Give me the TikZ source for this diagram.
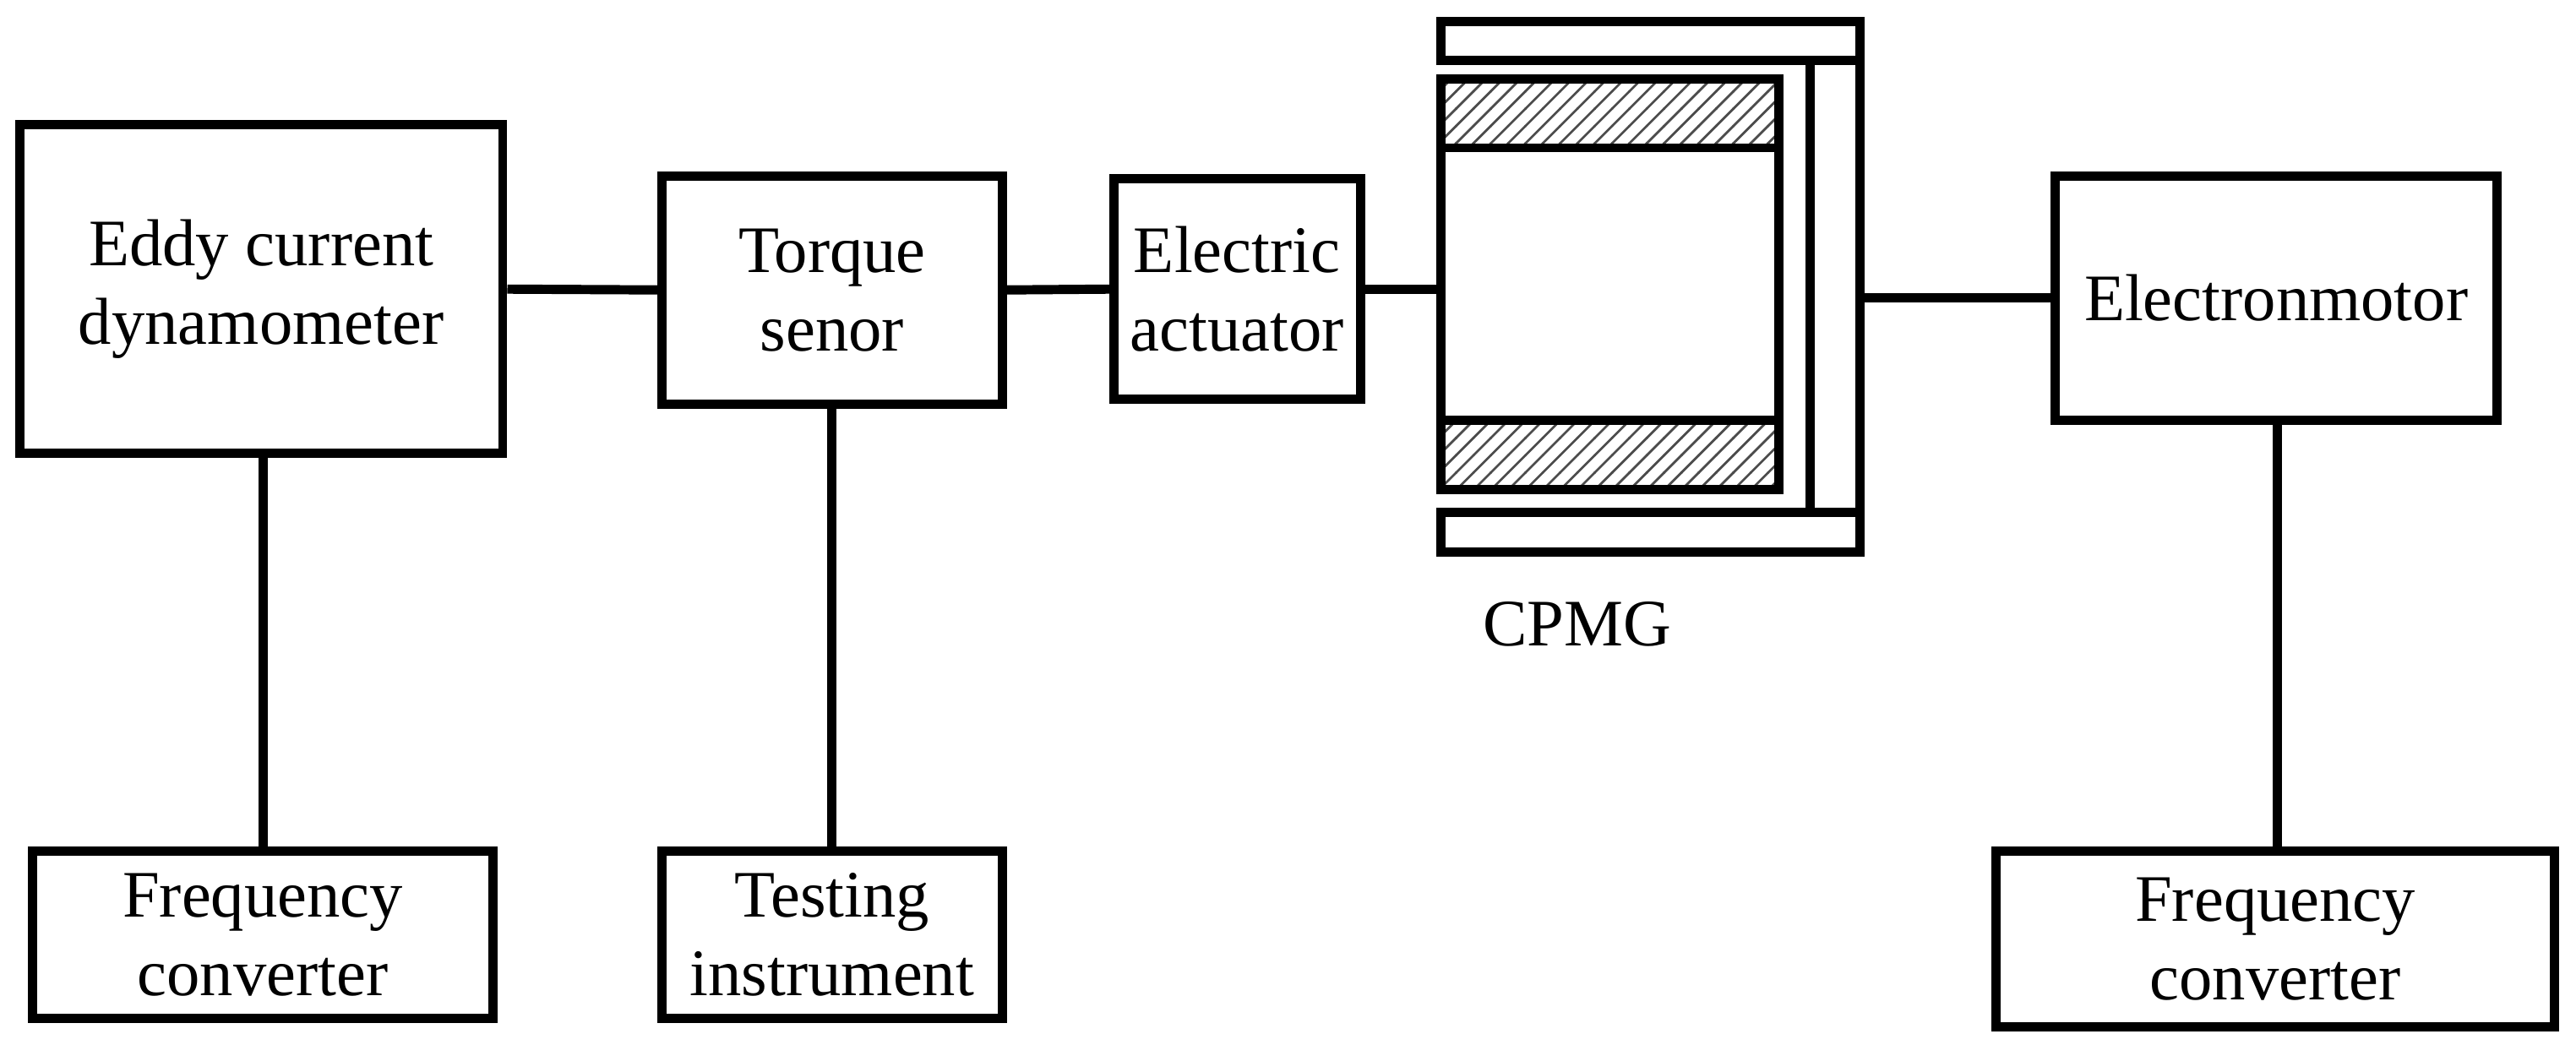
\documentclass[tikz,border=0pt]{standalone}
\usepackage{fontspec}
\setmainfont{Liberation Serif}
\usetikzlibrary{patterns}
\tikzset{
  blk/.style={draw, line width=1.6pt, align=center, inner sep=0pt,
              font=\fontsize{11.5}{13.6}\selectfont},
  wire/.style={line width=1.6pt},
}
\newcommand{\blkat}[6]{% name, x1, y1, x2, y2, text
  \node[blk, minimum width={(#4-#2)*0.01cm}, minimum height={(#5-#3)*0.01cm}]
    (#1) at ({(#2+#4)/2},{(#3+#5)/2}) {#6};}

\begin{document}
\begin{tikzpicture}[x=0.01cm, y=-0.01cm]
    \useasboundingbox (0,0) rectangle (1568,636);
    % main chain
    \blkat{eddy}{12}{76}{306}{276}{Eddy current\\dynamometer}
    \blkat{torque}{403}{107}{610}{246}{Torque\\senor}
    \blkat{act}{678}{109}{828}{243}{Electric\\actuator}
    \blkat{motor}{1251}{107}{1520}{256}{Electronmotor}
    % lower row
    \blkat{freqL}{20}{518}{300}{620}{Frequency\\converter}
    \blkat{test}{403}{518}{610}{620}{Testing\\instrument}
    \blkat{freqR}{1215}{518}{1555}{625}{Frequency\\converter}

    % CPMG
    \draw[wire] (877,13) rectangle (1132,37);
    \draw[wire] (877,312) rectangle (1132,336);
    \blkat{bar}{1102}{37}{1132}{312}{}
    \blkat{cpmg}{877}{48}{1083}{298}{}
    \draw[wire, pattern=north east lines, pattern color=black!70] (877,48) rectangle (1083,90);
    \draw[wire, pattern=north east lines, pattern color=black!70] (877,256) rectangle (1083,298);
    \node[font=\fontsize{11.5}{13.6}\selectfont] (cpmglbl) at (960,380) {CPMG};

    % connectors
    \draw[wire] (eddy.east) -- (torque.west);
    \draw[wire] (torque.east) -- (act.west);
    \draw[wire] (act.east) -- (act.east -| cpmg.west);
    \draw[wire] (motor.west -| bar.east) -- (motor.west);
    \draw[wire] (eddy.south -| 160,0) -- (freqL.north -| 160,0);
    \draw[wire] (torque.south) -- (test.north);
    \draw[wire] (motor.south -| 1386,0) -- (freqR.north -| 1386,0);
\end{tikzpicture}
\end{document}
